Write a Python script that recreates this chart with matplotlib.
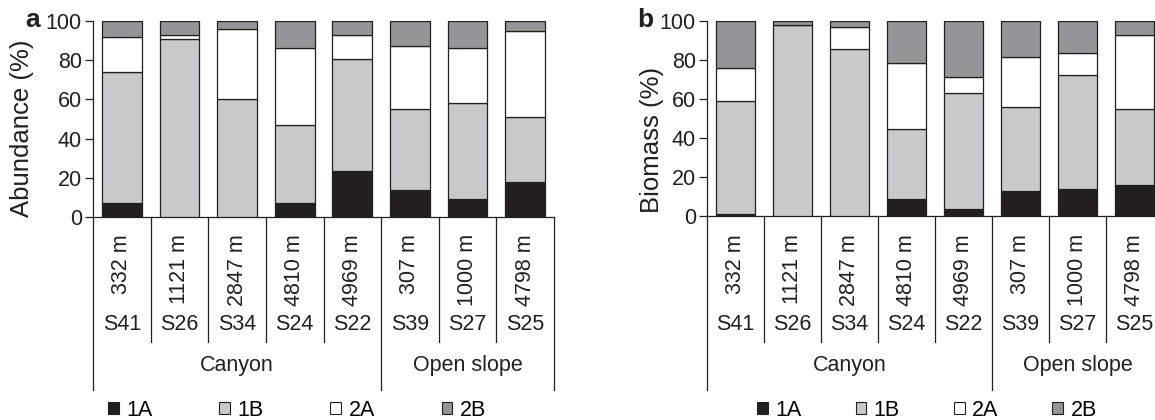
import matplotlib
matplotlib.use("Agg")
import matplotlib.pyplot as plt
from matplotlib.patches import Patch
from matplotlib.lines import Line2D
from matplotlib.transforms import blended_transform_factory
import numpy as np

plt.rcParams['font.family'] = ['Liberation Sans', 'DejaVu Sans']

# data
stations = ["S41", "S26", "S34", "S24", "S22", "S39", "S27", "S25"]
depths = ["332 m", "1121 m", "2847 m", "4810 m", "4969 m", "307 m", "1000 m", "4798 m"]
groups = ["Canyon", "Open slope"]
group_sizes = [5, 3]
categories = ["1A", "1B", "2A", "2B"]

# abundance (%)
abund_1A = [7, 0, 0, 7, 23.5, 14, 9, 18]
abund_1B = [67, 91, 60, 40, 57, 41, 49, 33]
abund_2A = [18, 2, 36, 39, 12.5, 32, 28, 44]
abund_2B = [8, 7, 4, 14, 7, 13, 14, 5]

# biomass (%)
bio_1A = [1, 0, 0, 8.5, 3.3, 12.8, 13.6, 15.7]
bio_1B = [58, 98, 85.5, 35.8, 59.5, 42.8, 58.5, 39.1]
bio_2A = [17, 0, 11.2, 34.3, 8.2, 25.9, 11.4, 38.2]
bio_2B = [24, 2, 3.3, 21.4, 29, 18.5, 16.5, 7]

colors = ["#231f20", "#c8c9cb", "#ffffff", "#939598"]
ink = "#231f20"
FS = 15.5

W, H = 1155, 420
fig = plt.figure(figsize=(W / 100, H / 100), dpi=100)


def fy(p):
    # pixel row -> figure fraction
    return (H - p) / H


def draw_panel(ax, series, ylabel, letter, letter_x, ylabel_x, ylabel_y, legend_cx, colspace):
    x = np.arange(len(stations))
    bottom = np.zeros(len(stations))
    for vals, c in zip(series, colors):
        ax.bar(x, vals, width=0.69, bottom=bottom, color=c, edgecolor=ink,
               linewidth=0.9, zorder=3)
        bottom += np.array(vals)

    ax.set_xlim(-0.5, len(stations) - 0.5)
    ax.set_ylim(0, 100)
    ax.set_yticks([0, 20, 40, 60, 80, 100])
    ax.set_xticks([])
    for s in ["top", "right"]:
        ax.spines[s].set_visible(False)
    for s in ["left", "bottom"]:
        ax.spines[s].set_color(ink)
        ax.spines[s].set_linewidth(0.9)
    ax.tick_params(axis="y", direction="out", length=6, width=0.9, color=ink,
                   labelsize=15.5, labelcolor=ink, pad=2)

    fig.text(ylabel_x / W, fy(ylabel_y), ylabel, rotation=90, ha="center", va="center",
             fontsize=18.5, color=ink)
    fig.text(letter_x / W, fy(20), letter, ha="center", va="center",
             fontsize=19, fontweight="bold", color=ink)

    tr = blended_transform_factory(ax.transData, fig.transFigure)
    y0 = ax.get_position().y0
    long_lines = np.cumsum([0] + group_sizes) - 0.5
    for b in np.arange(len(stations) + 1) - 0.5:
        bot = fy(390) if b in long_lines else fy(342)
        ax.add_line(Line2D([b, b], [y0, bot], transform=tr, color=ink,
                           linewidth=0.9, clip_on=False))
    for i in x:
        ax.text(i, fy(234), depths[i], rotation=90, ha="center", va="top",
                fontsize=FS, color=ink, transform=tr)
        ax.text(i, fy(325), stations[i], ha="center", va="center",
                fontsize=FS, color=ink, transform=tr)
    start = 0
    for g, n in zip(groups, group_sizes):
        ax.text(start + n / 2 - 0.5, fy(365), g, ha="center", va="center",
                fontsize=FS, color=ink, transform=tr)
        start += n

    handles = [Patch(facecolor=c, edgecolor=ink, linewidth=0.8) for c in colors]
    fig.legend(handles, categories, loc="center", bbox_to_anchor=(legend_cx / W, fy(410)),
               ncol=4, frameon=False, fontsize=FS, handlelength=0.5, handleheight=0.5,
               handletextpad=0.35, columnspacing=colspace, borderpad=0)


ax_a = fig.add_axes([93 / W, fy(217), 461 / W, 196 / H])
draw_panel(ax_a, [abund_1A, abund_1B, abund_2A, abund_2B], "Abundance (%)", "a",
           33, 22, 128, 297, 3.1)

ax_b = fig.add_axes([707 / W, fy(215.5), 456 / W, 194.5 / H])
draw_panel(ax_b, [bio_1A, bio_1B, bio_2A, bio_2B], "Biomass (%)", "b",
           645, 652, 140, 927, 2.5)

fig.savefig("out.png", dpi=100)
